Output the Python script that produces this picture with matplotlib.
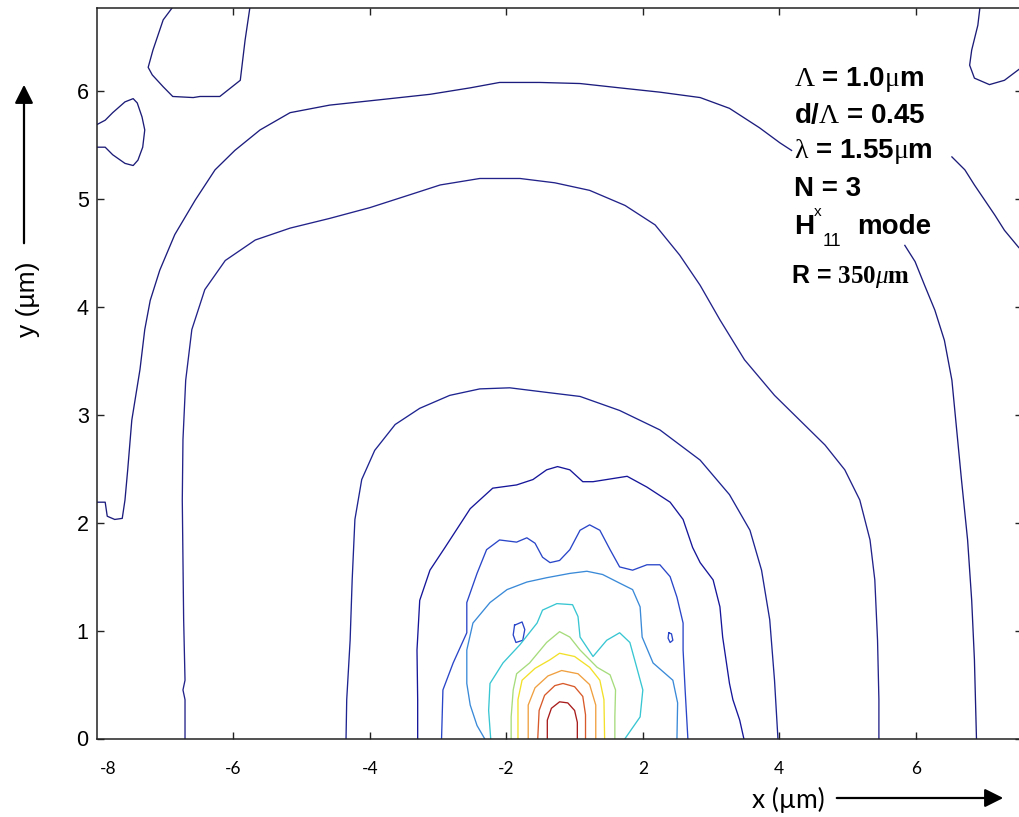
import matplotlib
matplotlib.use("Agg")
import matplotlib.pyplot as plt
from matplotlib.transforms import ScaledTranslation

plt.rcParams["mathtext.fontset"] = "custom"
plt.rcParams["mathtext.rm"] = "Liberation Serif"
plt.rcParams["mathtext.it"] = "Liberation Serif:italic"
plt.rcParams["mathtext.bf"] = "Liberation Serif:bold"

# ---- traced iso-intensity lines of the H^x_11 mode field (x, y in um) ----
# level 0 (lowest) pieces near the window corners
L0a_x = [-6.90, -7.03, -7.18, -7.25, -7.19, -7.03, -6.89, -6.59, -6.49, -6.20, -5.90, -5.83, -5.76]
L0a_y = [6.77, 6.66, 6.38, 6.22, 6.15, 6.04, 5.95, 5.94, 5.95, 5.95, 6.10, 6.47, 6.77]
L0b_x = [-8.0, -7.88, -7.77, -7.59, -7.47, -7.41, -7.34, -7.30, -7.33, -7.40, -7.47, -7.59, -7.77, -7.88, -8.0]
L0b_y = [5.69, 5.73, 5.80, 5.90, 5.93, 5.89, 5.76, 5.64, 5.48, 5.36, 5.31, 5.33, 5.41, 5.48, 5.48]
L0c_x = [4.94, 4.91, 4.82, 4.79, 4.86, 5.08, 5.30, 5.51]
L0c_y = [6.77, 6.61, 6.38, 6.24, 6.12, 6.06, 6.10, 6.20]
L0d_x = [4.53, 4.72, 4.86, 5.01, 5.16, 5.30, 5.51]
L0d_y = [5.39, 5.27, 5.13, 4.99, 4.85, 4.71, 4.55]

# level 1
L1a_x = [-8.0, -7.88, -7.85, -7.74, -7.63, -7.59, -7.55, -7.49, -7.37, -7.30, -7.22, -7.08, -6.86,
         -6.56, -6.27, -5.98, -5.61, -5.17, -4.59, -3.85, -3.12, -2.53, -2.10, -1.51, -0.92, -0.34,
         0.25, 0.84, 1.27, 1.71, 2.01, 2.18]
L1a_y = [2.19, 2.19, 2.06, 2.03, 2.04, 2.21, 2.49, 2.95, 3.42, 3.79, 4.06, 4.34, 4.67,
         4.99, 5.27, 5.45, 5.64, 5.80, 5.87, 5.92, 5.97, 6.03, 6.08, 6.08, 6.07, 6.03,
         5.99, 5.94, 5.84, 5.66, 5.52, 5.45]
L1b_x = [3.84, 3.99, 4.13, 4.28, 4.42, 4.53, 4.60, 4.67, 4.76, 4.82, 4.86, 4.89]
L1b_y = [4.57, 4.42, 4.20, 3.97, 3.69, 3.32, 2.86, 2.40, 1.84, 1.28, 0.73, 0.0]

# level 2
L2_x = [-6.71, -6.71, -6.74, -6.71, -6.73, -6.74, -6.75, -6.74, -6.70, -6.61, -6.42, -6.12, -5.68,
        -5.17, -4.59, -4.00, -3.41, -2.97, -2.39, -1.80, -1.29, -0.78, -0.26, 0.18, 0.54, 0.84,
        1.13, 1.49, 1.93, 2.30, 2.67, 2.96, 3.18, 3.33, 3.40, 3.44, 3.46, 3.46]
L2_y = [0.0, 0.36, 0.45, 0.54, 1.10, 1.65, 2.21, 2.77, 3.32, 3.79, 4.16, 4.43, 4.62,
        4.73, 4.82, 4.92, 5.04, 5.13, 5.19, 5.19, 5.15, 5.08, 4.94, 4.76, 4.48, 4.20,
        3.88, 3.51, 3.18, 2.95, 2.72, 2.49, 2.21, 1.84, 1.47, 0.91, 0.36, 0.0]

# level 3
L3_x = [-4.35, -4.34, -4.29, -4.26, -4.22, -4.12, -3.93, -3.63, -3.27, -2.83, -2.39, -1.95, -1.44,
        -0.92, -0.34, 0.25, 0.84, 1.27, 1.57, 1.74, 1.86, 1.93, 1.98]
L3_y = [0.0, 0.36, 0.91, 1.47, 2.03, 2.40, 2.67, 2.91, 3.06, 3.18, 3.24, 3.25, 3.21,
        3.17, 3.04, 2.86, 2.58, 2.26, 1.93, 1.56, 1.10, 0.54, 0.0]

# level 4
L4_x = [-3.30, -3.30, -3.31, -3.27, -3.12, -2.90, -2.53, -2.20, -1.85, -1.61, -1.41, -1.25, -1.07,
        -0.88, -0.73, -0.53, -0.23, 0.06, 0.40, 0.59, 0.73, 0.84, 1.03, 1.13, 1.17, 1.27, 1.32, 1.42, 1.48]
L4_y = [0.0, 0.36, 0.82, 1.28, 1.56, 1.77, 2.13, 2.32, 2.35, 2.40, 2.49, 2.52, 2.49,
        2.38, 2.38, 2.40, 2.43, 2.33, 2.19, 2.03, 1.77, 1.63, 1.47, 1.22, 0.94, 0.51, 0.36, 0.17, 0.0]

# level 5 plus its two small islands
L5_x = [-2.95, -2.93, -2.78, -2.58, -2.58, -2.43, -2.29, -2.10, -1.85, -1.70, -1.58, -1.47, -1.36,
        -1.22, -1.07, -0.92, -0.78, -0.63, -0.48, -0.34, -0.15, 0.06, 0.25, 0.40, 0.50, 0.59, 0.59, 0.62, 0.66]
L5_y = [0.0, 0.45, 0.70, 0.98, 1.26, 1.53, 1.75, 1.84, 1.82, 1.86, 1.81, 1.68, 1.63,
        1.65, 1.75, 1.93, 1.98, 1.93, 1.75, 1.59, 1.56, 1.61, 1.61, 1.50, 1.31, 1.07, 0.82, 0.45, 0.0]
L5i_x = [-1.88, -1.77, -1.73, -1.76, -1.86, -1.90, -1.88]
L5i_y = [1.05, 1.08, 1.01, 0.91, 0.89, 0.96, 1.05]
L5j_x = [0.38, 0.42, 0.44, 0.40, 0.37, 0.38]
L5j_y = [0.98, 0.97, 0.91, 0.89, 0.93, 0.98]

# level 6
L6_x = [-2.32, -2.43, -2.53, -2.58, -2.58, -2.49, -2.24, -1.99, -1.70, -1.41, -1.07, -0.82, -0.59,
        -0.34, -0.15, -0.04, -0.01, 0.15, 0.44, 0.51, 0.50]
L6_y = [0.0, 0.12, 0.31, 0.51, 0.82, 1.07, 1.26, 1.38, 1.45, 1.49, 1.53, 1.55, 1.52,
        1.44, 1.38, 1.22, 0.94, 0.70, 0.54, 0.33, 0.0]

# level 7
L7_x = [-2.23, -2.26, -2.24, -2.05, -1.80, -1.55, -1.47, -1.26, -1.03, -0.95, -0.92, -0.73, -0.53,
        -0.34, -0.19, -0.09, 0.0, -0.04, -0.26]
L7_y = [0.0, 0.26, 0.51, 0.70, 0.87, 1.07, 1.19, 1.25, 1.24, 1.13, 0.94, 0.76, 0.91,
        0.98, 0.89, 0.66, 0.45, 0.20, 0.0]

# level 8
L8_x = [-1.93, -1.93, -1.90, -1.85, -1.66, -1.41, -1.22, -1.07, -0.92, -0.67, -0.48, -0.40, -0.41, -0.41]
L8_y = [0.0, 0.20, 0.45, 0.60, 0.70, 0.89, 0.99, 0.94, 0.82, 0.66, 0.59, 0.45, 0.20, 0.0]

# level 9
L9_x = [-1.83, -1.83, -1.77, -1.58, -1.36, -1.22, -1.00, -0.78, -0.63, -0.57, -0.56]
L9_y = [0.0, 0.36, 0.54, 0.65, 0.73, 0.79, 0.76, 0.66, 0.54, 0.36, 0.0]

# level 10
L10_x = [-1.68, -1.68, -1.58, -1.39, -1.19, -0.95, -0.78, -0.69, -0.69]
L10_y = [0.0, 0.31, 0.47, 0.58, 0.63, 0.60, 0.50, 0.31, 0.0]

# level 11
L11_x = [-1.54, -1.52, -1.44, -1.29, -1.17, -1.00, -0.88, -0.84, -0.84]
L11_y = [0.0, 0.26, 0.40, 0.49, 0.51, 0.48, 0.39, 0.22, 0.0]

# level 12 (peak)
L12_x = [-1.40, -1.40, -1.34, -1.22, -1.10, -1.00, -0.96, -0.96]
L12_y = [0.0, 0.17, 0.28, 0.34, 0.33, 0.26, 0.15, 0.0]

# axis tick values and their printed labels
xtick_vals = [-8, -6, -4, -2, 0, 2, 4]
xtick_text = ["-8", "-6", "-4", "-2", "2", "4", "6"]
ytick_vals = [0, 1, 2, 3, 4, 5, 6]

# jet-style colours, one per level
level_colors = ["#1c1c78", "#1c1c7e", "#22228a", "#1e2490", "#16169a", "#2a46c8",
                "#3a8ad8", "#38c6d2", "#a6dc7c", "#f2e02a", "#f0a040", "#d85a2a", "#a81c1c"]

W, H = 1019, 817
fig = plt.figure(figsize=(W / 100, H / 100), dpi=100)
ax = fig.add_axes([97 / W, (H - 738.5) / H, (1021.5 - 97) / W, (738.5 - 8) / H])

pieces = [
    (L0a_x, L0a_y, 0), (L0b_x, L0b_y, 0), (L0c_x, L0c_y, 0), (L0d_x, L0d_y, 0),
    (L1a_x, L1a_y, 1), (L1b_x, L1b_y, 1),
    (L2_x, L2_y, 2), (L3_x, L3_y, 3), (L4_x, L4_y, 4),
    (L5_x, L5_y, 5), (L5i_x, L5i_y, 5), (L5j_x, L5j_y, 5),
    (L6_x, L6_y, 6), (L7_x, L7_y, 7), (L8_x, L8_y, 8), (L9_x, L9_y, 9),
    (L10_x, L10_y, 10), (L11_x, L11_y, 11), (L12_x, L12_y, 12),
]
for px, py, lev in pieces:
    ax.plot(px, py, color=level_colors[lev], lw=0.95, solid_joinstyle="round")

ax.set_xlim(-8, 5.55)
ax.set_ylim(0, 6.77)

for s in ax.spines.values():
    s.set_color("#222222")
    s.set_linewidth(1.1)

ax.set_xticks(xtick_vals)
ax.set_xticklabels(xtick_text, fontfamily="Lato", fontsize=12.5)
ax.set_yticks(ytick_vals)
ax.set_yticklabels([str(v) for v in ytick_vals], fontfamily="Liberation Sans", fontsize=15.5)
ax.tick_params(axis="both", direction="in", length=5, width=1.0, top=True, right=True, color="#222222")
ax.tick_params(axis="x", pad=16)
ax.tick_params(axis="y", pad=6)

# the leftmost label sits at the frame corner: no tick mark, label nudged right
first = ax.xaxis.get_major_ticks()[0]
first.tick1line.set_visible(False)
first.tick2line.set_visible(False)
first.label1.set_transform(first.label1.get_transform() + ScaledTranslation(11 / 100, 0, fig.dpi_scale_trans))

# axis titles with direction arrows
fig.text(788 / W, 1 - 800 / H, "x (µm)", ha="center", va="center", fontfamily="Lato", fontsize=19)
ax.annotate("", xy=(1006 / W, 1 - 798 / H), xytext=(834 / W, 1 - 798 / H),
            xycoords="figure fraction", textcoords="figure fraction",
            arrowprops=dict(arrowstyle="-|>", color="black", lw=1.6, mutation_scale=28))
fig.text(28 / W, 1 - 299 / H, "y (µm)", ha="center", va="center", rotation=90,
         fontfamily="Liberation Sans", fontsize=19)
ax.annotate("", xy=(24 / W, 1 - 82 / H), xytext=(24 / W, 1 - 246 / H),
            xycoords="figure fraction", textcoords="figure fraction",
            arrowprops=dict(arrowstyle="-|>", color="black", lw=1.6, mutation_scale=28))

# parameter block
bold = dict(fontfamily="Liberation Sans", fontweight="bold", fontsize=20, va="center", ha="left")
fig.text(794 / W, 1 - 80 / H, r"$\mathrm{\Lambda}$ = 1.0$\mathrm{\mu}$m", **bold)
fig.text(794 / W, 1 - 116 / H, r"d/$\mathrm{\Lambda}$ = 0.45", **bold)
fig.text(794 / W, 1 - 152 / H, r"$\mathrm{\lambda}$ = 1.55$\mathrm{\mu}$m", **bold)
fig.text(794 / W, 1 - 189 / H, "N = 3", **bold)
fig.text(794 / W, 1 - 227 / H, "H", **bold)
fig.text(814 / W, 1 - 212 / H, "x", fontfamily="Liberation Sans", fontsize=11, va="center", ha="left")
fig.text(823 / W, 1 - 242 / H, "11", fontfamily="Liberation Sans", fontsize=13, va="center", ha="left")
fig.text(857 / W, 1 - 227 / H, "mode", **bold)
fig.text(791 / W, 1 - 277 / H, r"R = $\mathbf{350}\mu\mathbf{m}$", fontfamily="Liberation Sans",
         fontweight="bold", fontsize=18, va="center", ha="left")

fig.savefig("out.png", dpi=100)
